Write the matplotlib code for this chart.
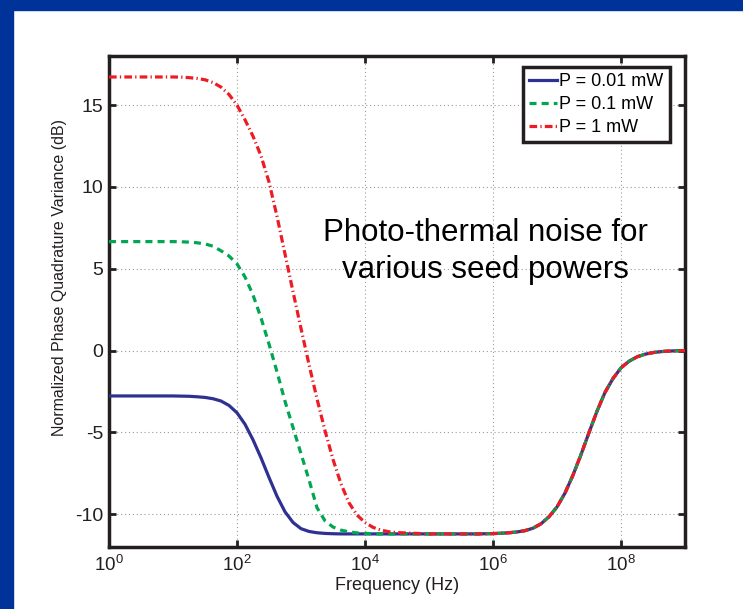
import numpy as np
import matplotlib
matplotlib.use("Agg")
import matplotlib.pyplot as plt
from matplotlib.patches import Rectangle

# ---------------------------------------------------------------------------
# Data (log10 of frequency in Hz, variance in dB)
# ---------------------------------------------------------------------------

# sample positions: coarse on the plateaus, 1/8 decade in the transitions
log_freq_low = [0.0, 0.5] + list(np.arange(1.0, 4.5001, 0.125))
log_freq_high = [5.0, 5.5, 5.75] + list(np.arange(6.0, 9.0001, 0.125))
log_freq = log_freq_low + log_freq_high

# shared high-frequency tail (all three curves lie on top of each other)
tail = [-11.2, -11.2, -11.2, -11.18, -11.16, -11.13, -11.08, -11.0, -10.85,
        -10.58, -10.15, -9.55, -8.7, -7.6, -6.35, -5.0, -3.7, -2.55, -1.7,
        -1.05, -0.65, -0.38, -0.22, -0.12, -0.06, -0.03, -0.01, 0.0]

p001_mw = [-2.77, -2.77,
           -2.77, -2.78, -2.79, -2.82, -2.86, -2.94, -3.08, -3.35, -3.8,
           -4.5, -5.45, -6.55, -7.75, -8.9, -9.85, -10.5, -10.88, -11.05,
           -11.13, -11.17, -11.19, -11.2, -11.2, -11.2, -11.2, -11.2, -11.2,
           -11.2, -11.2] + tail

p01_mw = [6.66, 6.66,
          6.66, 6.65, 6.63, 6.59, 6.52, 6.38, 6.1, 5.78, 5.3, 4.5, 3.4, 2.0,
          0.4, -1.3, -3.1, -4.7, -6.3, -7.9, -9.6, -10.4, -10.78, -10.97,
          -11.08, -11.14, -11.17, -11.19, -11.2, -11.2, -11.2] + tail

p1_mw = [16.72, 16.72,
         16.72, 16.71, 16.68, 16.63, 16.55, 16.38, 16.1, 15.65, 15.0, 14.1,
         13.1, 11.9, 10.3, 8.2, 5.9, 3.6, 1.35, -0.85, -2.95, -4.9, -6.65,
         -8.15, -9.3, -10.05, -10.5, -10.8, -10.97, -11.07, -11.12] + tail

labels = ["P = 0.01 mW", "P = 0.1 mW", "P = 1 mW"]
x_ticks = [0, 2, 4, 6, 8]
y_ticks = [-10, -5, 0, 5, 10, 15]

# ---------------------------------------------------------------------------
# Plot
# ---------------------------------------------------------------------------

plt.rcParams["font.family"] = ["Liberation Sans", "DejaVu Sans"]
plt.rcParams["mathtext.fontset"] = "custom"
plt.rcParams["mathtext.rm"] = "Liberation Sans"
plt.rcParams["mathtext.it"] = "Liberation Sans"

frame_blue = "#003399"
ink = "#231f20"

fig = plt.figure(figsize=(7.43, 6.09), dpi=100)
fig.patches.append(Rectangle((0, 1 - 10 / 609), 1, 10 / 609, transform=fig.transFigure,
                             color=frame_blue, zorder=0))
fig.patches.append(Rectangle((0, 0), 13 / 743, 1, transform=fig.transFigure,
                             color=frame_blue, zorder=0))

ax = fig.add_axes([0.1467, 0.1018, 0.7753, 0.8062])

freq = 10.0 ** np.array(log_freq)
ax.plot(freq, p001_mw, color="#2e3192", lw=2.3, ls="-", label=labels[0], zorder=3)
ax.plot(freq, p01_mw, color="#00a651", lw=2.3, ls=(0, (2.2, 1.6)), label=labels[1], zorder=4)
ax.plot(freq, p1_mw, color="#ed1c24", lw=2.3, ls=(0, (2.4, 1.0, 0.4, 1.0)),
        label=labels[2], zorder=5)

ax.set_xscale("log")
ax.set_xlim(1e0, 1e9)
ax.set_ylim(-12, 18)
ax.set_xticks([10.0 ** k for k in x_ticks])
ax.set_xticklabels([f"$10^{{{k}}}$" for k in x_ticks])
ax.xaxis.set_minor_locator(matplotlib.ticker.NullLocator())
ax.set_yticks(y_ticks)
ax.set_yticklabels([str(v) for v in y_ticks])

ax.grid(True, which="major", ls=(0, (1, 2.5)), color="#9a9a9a", lw=0.8)
ax.tick_params(direction="in", length=5, width=2, top=True, right=True,
               labelsize=14, colors=ink)
ax.tick_params(axis="x", pad=6, labelsize=13.5)
ax.tick_params(axis="y", pad=4)
for s in ax.spines.values():
    s.set_linewidth(2.5)
    s.set_color(ink)

ax.set_xlabel("Frequency (Hz)", fontsize=13, color=ink, labelpad=1)
ax.set_ylabel("Normalized Phase Quadrature Variance (dB)", fontsize=11.5,
              color=ink)
ax.yaxis.set_label_coords(-0.073, 0.548)

ax.text(10 ** 5.875, 6.05, "Photo-thermal noise for\nvarious seed powers",
        ha="center", va="center", fontsize=22.5, color="black", linespacing=1.27)

leg = ax.legend(loc="upper right", bbox_to_anchor=(0.974, 0.978),
                prop={"size": 13}, handlelength=1.55, handletextpad=0.12,
                borderpad=0.35, labelspacing=0.33, fancybox=False,
                framealpha=1, borderaxespad=0)
leg.get_frame().set_edgecolor(ink)
leg.get_frame().set_linewidth(2.5)

fig.savefig("out.png", dpi=100, facecolor="white")
